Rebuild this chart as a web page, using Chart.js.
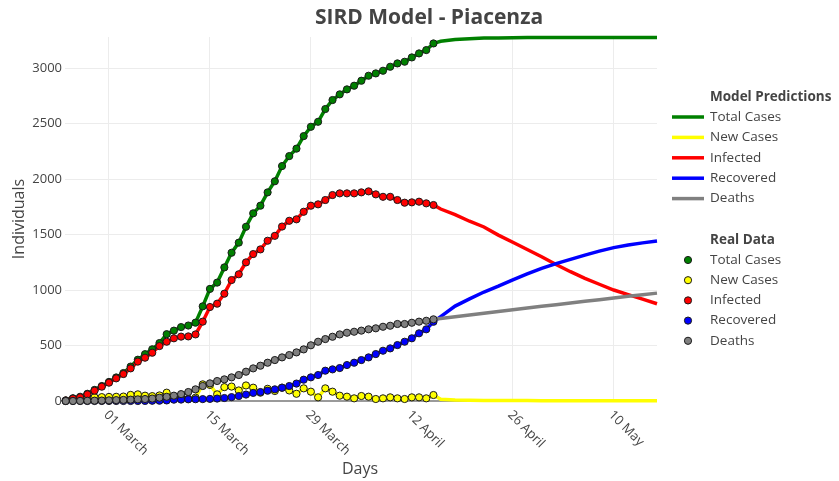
<!DOCTYPE html>
<html><head><meta charset="utf-8">
<script src="https://cdn.jsdelivr.net/npm/chart.js@4.4.1/dist/chart.umd.min.js"></script>
<style>html,body{margin:0;padding:0;background:#fff;}#wrap{width:839px;height:481px;}</style>
</head><body><div id="wrap"><canvas id="c" width="839" height="481"></canvas></div>
<script>
// ---------- DATA (day offsets counted from 01 March 2020) ----------
const chartTitle = 'SIRD Model - Piacenza';
const firstRealDay = -6;
const realTotal = [5,25,38,65,100,135,172,212,252,310,372,422,466,522,602,634,666,680,706,853,1010,1067,1204,1336,1427,1570,1691,1760,1880,1980,2117,2207,2274,2387,2471,2516,2631,2712,2763,2808,2841,2886,2931,2952,2976,3012,3042,3057,3096,3132,3162,3222];
const realNew = [0,15,12,25,33,35,37,38,40,55,60,48,44,50,75,35,35,20,30,150,145,60,125,130,95,140,120,75,110,90,120,95,65,114,84,33,114,84,48,39,24,45,39,18,24,33,24,18,33,33,24,54];
const realInfected = [5,22,33,60,93,129,165,204,243,294,355,390,435,495,534,565,580,582,600,715,847,877,967,1090,1142,1249,1324,1366,1444,1488,1572,1624,1637,1705,1760,1772,1811,1856,1871,1871,1871,1880,1889,1862,1840,1840,1811,1787,1790,1796,1781,1766];
const realRecovered = [0,0,0,0,0,0,0,0,0,0,0,1,2,3,5,12,13,15,16,17,19,22,27,35,45,58,73,81,93,105,120,135,157,192,213,234,273,285,297,324,345,369,393,423,453,474,504,534,565,610,646,714];
const realDeaths = [0,0,1,2,3,4,6,8,10,12,15,18,22,30,38,48,62,81,105,135,159,180,195,213,234,264,294,318,345,369,393,414,438,465,502,534,558,579,600,615,624,634,646,655,669,678,694,694,705,715,723,736];

const predDays = [46,48,50,52,54,56,58,60,62,64,66,68,70,72,74,76];
const predTotal = [3242,3258,3265,3270,3272,3274,3275,3275,3276,3276,3276,3276,3276,3276,3276,3276];
const predNew = [15,8,6,5,5,4,4,3,3,3,3,2,2,2,2,2];
const predInfected = [1730,1680,1620,1568,1495,1430,1365,1300,1230,1165,1105,1052,1000,958,918,876];
const predRecovered = [760,855,920,982,1035,1092,1145,1195,1238,1276,1315,1350,1382,1405,1425,1441];
const predDeaths = [744,760,775,791,806,822,838,853,868,883,898,913,928,943,957,972];

const seriesNames = ['Total Cases','New Cases','Infected','Recovered','Deaths'];
const tickDays = [0,14,28,42,56,70];
const tickLabels = ['01 March','15 March','29 March','12 April','26 April','10 May'];
const yTickValues = [0,500,1000,1500,2000,2500,3000];

// ---------- build ----------
const colors = ['#008000','#ffff00','#ff0000','#0000ff','#808080'];
const realSeries = [realTotal, realNew, realInfected, realRecovered, realDeaths];
const predSeries = [predTotal, predNew, predInfected, predRecovered, predDeaths];
const toPts = arr => arr.map((v,i)=>({x:firstRealDay+i, y:v}));
const datasets = [];
seriesNames.forEach((n,k)=>{
  datasets.push({label:'Model '+n, data: toPts(realSeries[k]).concat(predDays.map((d,i)=>({x:d,y:predSeries[k][i]}))),
    borderColor:colors[k], backgroundColor:colors[k], borderWidth:3.5, pointRadius:0, tension:0, fill:false, clip:false, order:10-k});
});
seriesNames.forEach((n,k)=>{
  datasets.push({label:'Real '+n, data: toPts(realSeries[k]), showLine:false,
    pointRadius:3.6, pointBorderWidth:1, pointBorderColor:'#1a1a1a', pointBackgroundColor:colors[k], backgroundColor:colors[k], borderColor:'#1a1a1a', clip:false, order:5-k});
});

const FONT = '"Open Sans", "Liberation Sans", sans-serif';
const TXT = '#444';
const decor = {
  id:'decor',
  afterDraw(chart){
    const ctx = chart.ctx, xs = chart.scales.x, ca = chart.chartArea;
    ctx.save();
    ctx.fillStyle = TXT;
    // title
    ctx.font = 'bold 21px '+FONT; ctx.textAlign='center'; ctx.textBaseline='middle';
    ctx.fillText(chartTitle, 429, 18);
    // axis titles
    ctx.font = '16px '+FONT;
    ctx.fillText('Days', 360, 469);
    ctx.save(); ctx.translate(19, (ca.top+ca.bottom)/2); ctx.rotate(-Math.PI/2); ctx.fillText('Individuals',0,0); ctx.restore();
    // rotated x tick labels
    ctx.font = '13px '+FONT; ctx.textAlign='left'; ctx.textBaseline='middle';
    tickDays.forEach((d,i)=>{
      const px = xs.getPixelForValue(d);
      ctx.save(); ctx.translate(px-3, ca.bottom+12); ctx.rotate(Math.PI/4); ctx.fillText(tickLabels[i],0,0); ctx.restore();
    });
    // legend
    const lx = 710;
    ctx.font = 'bold 13.5px '+FONT; ctx.textAlign='left';
    ctx.fillText('Model Predictions', lx, 97);
    ctx.fillText('Real Data', lx, 240);
    ctx.font = '13.5px '+FONT;
    seriesNames.forEach((n,k)=>{
      const y1 = 117 + k*20.4;
      ctx.strokeStyle = colors[k]; ctx.lineWidth = 3.5; ctx.beginPath(); ctx.moveTo(672,y1); ctx.lineTo(704,y1); ctx.stroke();
      ctx.fillStyle = TXT; ctx.fillText(n, lx, y1);
      const y2 = 260 + k*20.2;
      ctx.beginPath(); ctx.arc(688,y2,3.6,0,Math.PI*2); ctx.fillStyle=colors[k]; ctx.fill(); ctx.lineWidth=1; ctx.strokeStyle='#1a1a1a'; ctx.stroke();
      ctx.fillStyle = TXT; ctx.fillText(n, lx, y2);
    });
    ctx.restore();
  }
};

new Chart(document.getElementById('c'), {
  type:'line',
  data:{datasets},
  options:{
    responsive:false, animation:false, devicePixelRatio:1,
    layout:{padding:{top:37,right:182,left:0,bottom:0}},
    plugins:{legend:{display:false}, tooltip:{enabled:false}, title:{display:false}},
    scales:{
      x:{type:'linear', min:-6.1, max:76,
        afterBuildTicks: s => { s.ticks = tickDays.map(v=>({value:v})); },
        afterFit: s => { s.height = 80; },
        ticks:{display:false}, grid:{color:'#ececec', drawTicks:false, lineWidth:1}, border:{display:false}},
      y:{type:'linear', min:0, max:3280,
        afterBuildTicks: s => { s.ticks = yTickValues.map(v=>({value:v})); },
        afterFit: s => { s.width = 65; },
        ticks:{color:TXT, font:{family:FONT, size:13}, padding:3, callback: v => String(v)},
        grid:{drawTicks:false, color: c => c.tick && c.tick.value===0 ? '#9a9a9a' : '#ececec', lineWidth: c => c.tick && c.tick.value===0 ? 2 : 1},
        border:{display:false}}
    }
  },
  plugins:[decor]
});
</script></body></html>
